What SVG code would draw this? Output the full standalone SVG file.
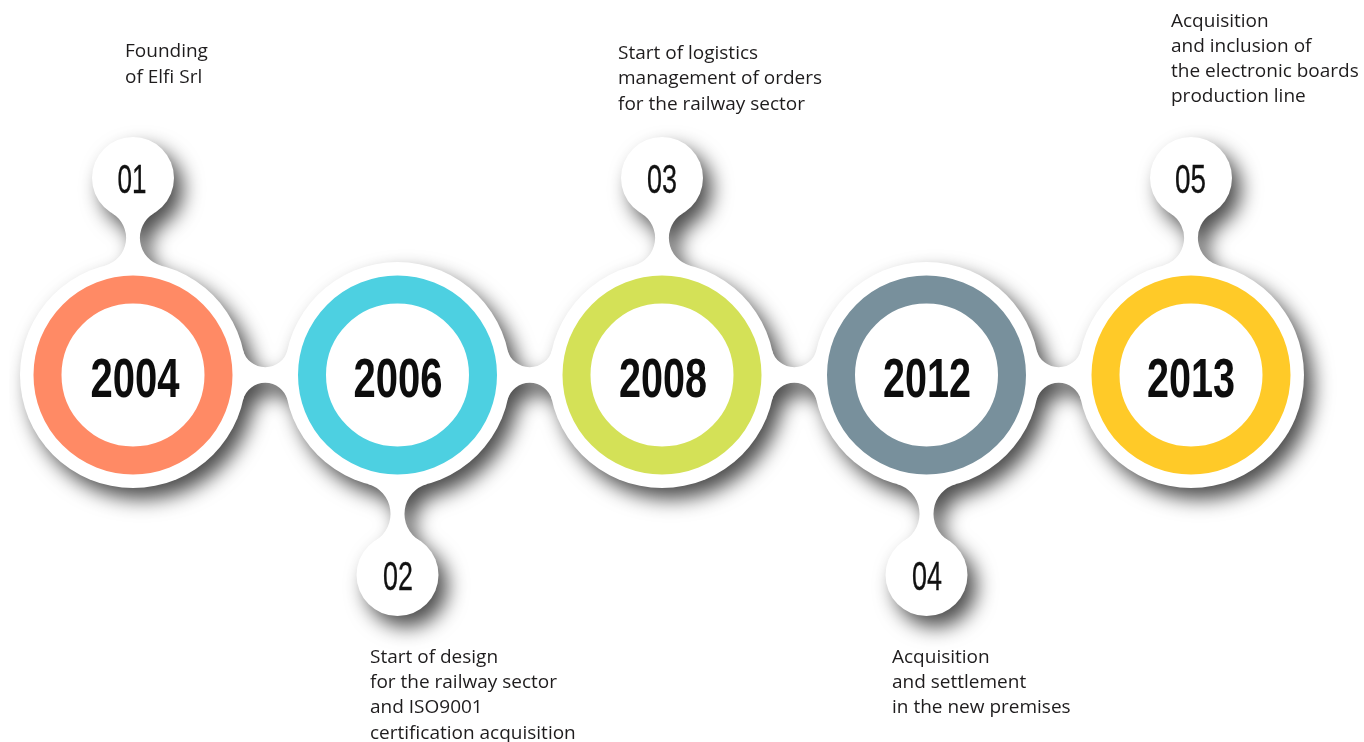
<svg xmlns="http://www.w3.org/2000/svg" xmlns:xlink="http://www.w3.org/1999/xlink" width="1364" height="742" viewBox="0 0 1364 742">
<style>
.w{fill:#ffffff}
.yr{font-family:"Liberation Sans",Arial,sans-serif;font-weight:bold;font-size:56px;fill:#0d0d0d;text-anchor:middle}
.num{font-family:"Liberation Sans",Arial,sans-serif;font-size:40px;fill:#111111;text-anchor:middle;stroke:#111111;stroke-width:0.3}
.desc{font-family:"Open Sans","Noto Sans",sans-serif;font-size:19px;fill:#1e1c1d}
</style>
<defs>
<filter id="sh" filterUnits="userSpaceOnUse" x="0" y="0" width="1364" height="742">
<feGaussianBlur in="SourceAlpha" stdDeviation="10"/>
<feOffset dx="9" dy="11" result="b"/>
<feFlood flood-color="#000000" flood-opacity="0.7"/>
<feComposite in2="b" operator="in"/>
</filter>
<path id="hneck" d="M 109.9,-25.3 A 23 23 0 0 0 154.6,-25.3 L 154.6,25.3 A 23 23 0 0 0 109.9,25.3 Z"/>
<path id="tneck" d="M 21.0,-161.8 A 28.7 28.7 0 0 0 28.5,-109.3 L -28.5,-109.3 A 28.7 28.7 0 0 0 -21.0,-161.8 Z"/>
<path id="bneck" d="M 29.8,109.0 A 31 31 0 0 0 21.6,165.2 L -21.6,165.2 A 31 31 0 0 0 -29.8,109.0 Z"/>
<g id="silhouette">
<use href="#hneck" transform="translate(133,375)"/>
<use href="#hneck" transform="translate(397.5,375)"/>
<use href="#hneck" transform="translate(662,375)"/>
<use href="#hneck" transform="translate(926.5,375)"/>
<use href="#tneck" transform="translate(133,375)"/>
<use href="#bneck" transform="translate(397.5,375)"/>
<use href="#tneck" transform="translate(662,375)"/>
<use href="#bneck" transform="translate(926.5,375)"/>
<use href="#tneck" transform="translate(1191,375)"/>
<circle cx="133" cy="375" r="113"/>
<circle cx="397.5" cy="375" r="113"/>
<circle cx="662" cy="375" r="113"/>
<circle cx="926.5" cy="375" r="113"/>
<circle cx="1191" cy="375" r="113"/>
<circle cx="133" cy="178" r="41"/>
<circle cx="397.5" cy="575" r="41"/>
<circle cx="662" cy="178" r="41"/>
<circle cx="926.5" cy="575" r="41"/>
<circle cx="1191" cy="178" r="41"/>
</g>
</defs>
<rect width="1364" height="742" fill="#ffffff"/>
<use href="#silhouette" filter="url(#sh)"/>
<g id="connectors" class="w">
<use href="#hneck" transform="translate(133,375)"/>
<use href="#hneck" transform="translate(397.5,375)"/>
<use href="#hneck" transform="translate(662,375)"/>
<use href="#hneck" transform="translate(926.5,375)"/>
<use href="#tneck" transform="translate(133,375)"/>
<use href="#bneck" transform="translate(397.5,375)"/>
<use href="#tneck" transform="translate(662,375)"/>
<use href="#bneck" transform="translate(926.5,375)"/>
<use href="#tneck" transform="translate(1191,375)"/>
</g>
<g id="node-01">
<circle class="w" cx="133" cy="375" r="113"/>
<circle class="w" cx="133" cy="178" r="41"/>
<circle cx="133" cy="375" r="85.5" fill="none" stroke="#ff8a65" stroke-width="28"/>
<text class="yr" x="135" y="397" textLength="89" lengthAdjust="spacingAndGlyphs">2004</text>
<text class="num" x="132" y="192.5" textLength="29" lengthAdjust="spacingAndGlyphs">01</text>
<text class="desc"><tspan x="125" y="57">Founding</tspan><tspan x="125" y="83">of Elfi Srl</tspan></text>
</g>
<g id="node-02">
<circle class="w" cx="397.5" cy="375" r="113"/>
<circle class="w" cx="397.5" cy="575" r="41"/>
<circle cx="397.5" cy="375" r="85.5" fill="none" stroke="#4dd0e1" stroke-width="28"/>
<text class="yr" x="398" y="397" textLength="89" lengthAdjust="spacingAndGlyphs">2006</text>
<text class="num" x="398" y="589.5" textLength="30" lengthAdjust="spacingAndGlyphs">02</text>
<text class="desc"><tspan x="370" y="662.7">Start of design</tspan><tspan x="370" y="688">for the railway sector</tspan><tspan x="370" y="713.3">and ISO9001</tspan><tspan x="370" y="738.5">certification acquisition</tspan></text>
</g>
<g id="node-03">
<circle class="w" cx="662" cy="375" r="113"/>
<circle class="w" cx="662" cy="178" r="41"/>
<circle cx="662" cy="375" r="85.5" fill="none" stroke="#d4e157" stroke-width="28"/>
<text class="yr" x="663" y="397" textLength="88" lengthAdjust="spacingAndGlyphs">2008</text>
<text class="num" x="662" y="192.5" textLength="30" lengthAdjust="spacingAndGlyphs">03</text>
<text class="desc"><tspan x="618" y="58.5">Start of logistics</tspan><tspan x="618" y="84">management of orders</tspan><tspan x="618" y="109.5">for the railway sector</tspan></text>
</g>
<g id="node-04">
<circle class="w" cx="926.5" cy="375" r="113"/>
<circle class="w" cx="926.5" cy="575" r="41"/>
<circle cx="926.5" cy="375" r="85.5" fill="none" stroke="#78909c" stroke-width="28"/>
<text class="yr" x="927" y="397" textLength="88" lengthAdjust="spacingAndGlyphs">2012</text>
<text class="num" x="927" y="589.5" textLength="30" lengthAdjust="spacingAndGlyphs">04</text>
<text class="desc"><tspan x="892" y="662.7">Acquisition</tspan><tspan x="892" y="687.7">and settlement</tspan><tspan x="892" y="712.7">in the new premises</tspan></text>
</g>
<g id="node-05">
<circle class="w" cx="1191" cy="375" r="113"/>
<circle class="w" cx="1191" cy="178" r="41"/>
<circle cx="1191" cy="375" r="85.5" fill="none" stroke="#ffca28" stroke-width="28"/>
<text class="yr" x="1191" y="397" textLength="88" lengthAdjust="spacingAndGlyphs">2013</text>
<text class="num" x="1190.5" y="192.5" textLength="31" lengthAdjust="spacingAndGlyphs">05</text>
<text class="desc"><tspan x="1171" y="26.5">Acquisition</tspan><tspan x="1171" y="51.8">and inclusion of</tspan><tspan x="1171" y="77.1">the electronic boards</tspan><tspan x="1171" y="102.4">production line</tspan></text>
</g>
</svg>
